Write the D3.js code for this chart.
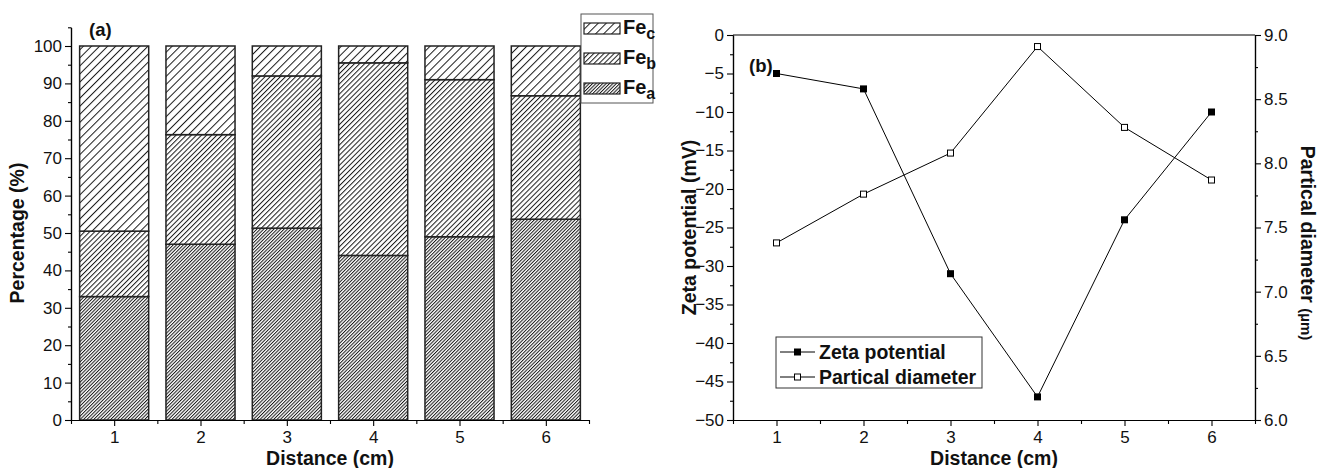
<!DOCTYPE html>
<html>
<head>
<meta charset="utf-8">
<script src="https://cdn.jsdelivr.net/npm/d3@7/dist/d3.min.js"></script>
<style>
  html, body { margin: 0; padding: 0; background: #fff; }
  svg { display: block; font-family: "Liberation Sans", Arial, sans-serif; }
</style>
</head>
<body>
<svg id="chart" width="1319" height="468"></svg>
<script>
// ---- data ----
const distances = [1, 2, 3, 4, 5, 6];
// iron fractions (%), stacked bottom to top
const feA = [33.0, 47.0, 51.3, 44.0, 49.0, 53.7];
const feB = [17.5, 29.3, 40.7, 51.5, 42.0, 33.0];
const feC = [49.5, 23.7, 8.0, 4.5, 9.0, 13.3];
const fractionNames = ["a", "b", "c"];

const zetaPotential = [-5, -7, -31, -47, -24, -10];
const particleDiameter = [7.38, 7.76, 8.08, 8.91, 8.28, 7.87];

const pctTicks = [0, 10, 20, 30, 40, 50, 60, 70, 80, 90, 100];
const zetaTicks = [0, -5, -10, -15, -20, -25, -30, -35, -40, -45, -50];
const diamTicks = [6.0, 6.5, 7.0, 7.5, 8.0, 8.5, 9.0];

const svg = d3.select("#chart");
const ink = "#000";
const tickFont = 17;
const titleFont = 19.5;

// ---- hatch patterns ----
const defs = svg.append("defs");
const hatchSpacing = { a: 2.4, b: 3.6, c: 5.7 };
fractionNames.forEach(k => {
  const p = defs.append("pattern")
    .attr("id", "hatch-" + k)
    .attr("patternUnits", "userSpaceOnUse")
    .attr("width", hatchSpacing[k])
    .attr("height", 10)
    .attr("patternTransform", "rotate(45)");
  p.append("rect").attr("width", hatchSpacing[k]).attr("height", 10).attr("fill", "#fff");
  p.append("line")
    .attr("x1", 0.5).attr("y1", 0).attr("x2", 0.5).attr("y2", 10)
    .attr("stroke", "#1a1a1a").attr("stroke-width", 1);
});

// ================= panel (a): stacked bars =================
const xA = d3.scaleLinear().domain([0.5, 6.5]).range([71, 589]);
const yA = d3.scaleLinear().domain([0, 105]).range([420, 27.3]);
const barW = xA(1.4) - xA(0.6);

const stackRows = distances.map((d, i) => ({ d, a: feA[i], b: feB[i], c: feC[i] }));
const stacked = d3.stack().keys(fractionNames)(stackRows);

const gA = svg.append("g");
stacked.forEach(layer => {
  gA.append("g").selectAll("rect")
    .data(layer)
    .join("rect")
    .attr("x", s => xA(s.data.d) - barW / 2)
    .attr("y", s => yA(s[1]))
    .attr("width", barW)
    .attr("height", s => yA(s[0]) - yA(s[1]))
    .attr("fill", "url(#hatch-" + layer.key + ")")
    .attr("stroke", "#222")
    .attr("stroke-width", 1.5);
});

// axes (a)
gA.append("g").attr("transform", `translate(${xA(0.5)},0)`)
  .call(d3.axisLeft(yA).tickValues(pctTicks).tickSize(6).tickSizeOuter(0).tickPadding(3).tickFormat(d3.format("d")));
gA.append("g").attr("transform", `translate(${xA(0.5)},0)`)
  .call(d3.axisLeft(yA).tickValues(d3.range(5, 106, 10)).tickSize(3).tickSizeOuter(0).tickFormat(""));
gA.append("g").attr("transform", `translate(0,${yA(0)})`)
  .call(d3.axisBottom(xA).tickValues(distances).tickSize(6).tickSizeOuter(0).tickPadding(5).tickFormat(d3.format("d")));
gA.append("g").attr("transform", `translate(0,${yA(0)})`)
  .call(d3.axisBottom(xA).tickValues(d3.range(0.5, 6.6, 1)).tickSize(4).tickSizeOuter(0).tickFormat(""));

gA.append("text").attr("x", 89).attr("y", 36)
  .attr("font-size", 18.5).attr("font-weight", "bold").text("(a)");
gA.append("text")
  .attr("transform", `translate(24,${yA(50)}) rotate(-90)`)
  .attr("text-anchor", "middle").attr("font-size", titleFont).attr("font-weight", "bold")
  .text("Percentage (%)");
gA.append("text").attr("x", xA(3.5)).attr("y", 465)
  .attr("text-anchor", "middle").attr("font-size", titleFont).attr("font-weight", "bold")
  .text("Distance (cm)");

// legend (a)
const legA = svg.append("g");
legA.append("rect").attr("x", 581).attr("y", 14).attr("width", 72).attr("height", 89)
  .attr("fill", "#fff").attr("stroke", "#555").attr("stroke-width", 1);
const legendOrder = ["c", "b", "a"];
legendOrder.forEach((k, i) => {
  const y0 = 23 + i * 30;
  legA.append("rect").attr("x", 584).attr("y", y0).attr("width", 36).attr("height", 11)
    .attr("fill", "url(#hatch-" + k + ")").attr("stroke", "#222").attr("stroke-width", 1.2);
  const t = legA.append("text").attr("x", 623).attr("y", y0 + 11)
    .attr("font-size", 20).attr("font-weight", "bold");
  t.append("tspan").text("Fe");
  t.append("tspan").attr("dy", 5).attr("font-size", 16).text(k);
});

// ================= panel (b): zeta potential & particle diameter =================
const xB = d3.scaleLinear().domain([0.5, 6.5]).range([733, 1255]);
const yZ = d3.scaleLinear().domain([-50, 0]).range([420, 35]);
const yD = d3.scaleLinear().domain([6, 9]).range([420, 35]);
const gB = svg.append("g");

// top frame line
gB.append("line").attr("x1", xB(0.5)).attr("x2", xB(6.5)).attr("y1", yZ(0)).attr("y2", yZ(0))
  .attr("stroke", ink).attr("stroke-width", 1.2);

gB.append("g").attr("transform", `translate(${xB(0.5)},0)`)
  .call(d3.axisLeft(yZ).tickValues(zetaTicks).tickSize(6).tickSizeOuter(0).tickPadding(3).tickFormat(d3.format("d")));
gB.append("g").attr("transform", `translate(${xB(0.5)},0)`)
  .call(d3.axisLeft(yZ).tickValues(d3.range(-47.5, 0, 5)).tickSize(3).tickSizeOuter(0).tickFormat(""));
gB.append("g").attr("transform", `translate(${xB(6.5)},0)`)
  .call(d3.axisRight(yD).tickValues(diamTicks).tickSize(6).tickSizeOuter(0).tickPadding(3).tickFormat(d3.format(".1f")));
gB.append("g").attr("transform", `translate(${xB(6.5)},0)`)
  .call(d3.axisRight(yD).tickValues(d3.range(6.25, 9, 0.5)).tickSize(3).tickSizeOuter(0).tickFormat(""));
gB.append("g").attr("transform", `translate(0,${yZ(-50)})`)
  .call(d3.axisBottom(xB).tickValues(distances).tickSize(6).tickSizeOuter(0).tickPadding(5).tickFormat(d3.format("d")));
gB.append("g").attr("transform", `translate(0,${yZ(-50)})`)
  .call(d3.axisBottom(xB).tickValues(d3.range(0.5, 6.6, 1)).tickSize(4).tickSizeOuter(0).tickFormat(""));

// series lines
const zetaLine = d3.line().x((v, i) => xB(distances[i])).y(v => yZ(v));
const diamLine = d3.line().x((v, i) => xB(distances[i])).y(v => yD(v));
gB.append("path").attr("d", zetaLine(zetaPotential))
  .attr("fill", "none").attr("stroke", ink).attr("stroke-width", 1);
gB.append("path").attr("d", diamLine(particleDiameter))
  .attr("fill", "none").attr("stroke", ink).attr("stroke-width", 1);

const m = 7;
gB.append("g").selectAll("rect").data(zetaPotential).join("rect")
  .attr("x", (v, i) => xB(distances[i]) - m / 2).attr("y", v => yZ(v) - m / 2)
  .attr("width", m).attr("height", m).attr("fill", ink);
gB.append("g").selectAll("rect").data(particleDiameter).join("rect")
  .attr("x", (v, i) => xB(distances[i]) - m / 2 + 0.5).attr("y", v => yD(v) - m / 2 + 0.5)
  .attr("width", m - 1).attr("height", m - 1).attr("fill", "#fff")
  .attr("stroke", ink).attr("stroke-width", 1);

gB.append("text").attr("x", 749).attr("y", 72)
  .attr("font-size", 18.5).attr("font-weight", "bold").text("(b)");
gB.append("text")
  .attr("transform", `translate(696,${yZ(-25)}) rotate(-90)`)
  .attr("text-anchor", "middle").attr("font-size", titleFont).attr("font-weight", "bold")
  .text("Zeta potential (mV)");
const rt = gB.append("text")
  .attr("transform", `translate(1301,243) rotate(90)`)
  .attr("text-anchor", "middle").attr("font-weight", "bold");
rt.append("tspan").attr("font-size", titleFont).text("Partical diameter ");
rt.append("tspan").attr("font-size", 15).text("(µm)");
gB.append("text").attr("x", xB(3.5)).attr("y", 465)
  .attr("text-anchor", "middle").attr("font-size", titleFont).attr("font-weight", "bold")
  .text("Distance (cm)");

// legend (b)
const legB = svg.append("g");
legB.append("rect").attr("x", 776).attr("y", 337).attr("width", 206).attr("height", 51)
  .attr("fill", "#fff").attr("stroke", "#333").attr("stroke-width", 1);
const legItems = [
  { name: "Zeta potential", filled: true },
  { name: "Partical diameter", filled: false }
];
legItems.forEach((it, i) => {
  const cy = 352 + i * 25;
  legB.append("line").attr("x1", 780).attr("x2", 815).attr("y1", cy).attr("y2", cy)
    .attr("stroke", ink).attr("stroke-width", 1);
  if (it.filled) {
    legB.append("rect").attr("x", 797.5 - m / 2).attr("y", cy - m / 2)
      .attr("width", m).attr("height", m).attr("fill", ink);
  } else {
    legB.append("rect").attr("x", 797.5 - m / 2 + 0.5).attr("y", cy - m / 2 + 0.5)
      .attr("width", m - 1).attr("height", m - 1).attr("fill", "#fff")
      .attr("stroke", ink).attr("stroke-width", 1);
  }
  legB.append("text").attr("x", 819).attr("y", cy + 7)
    .attr("font-size", 19.5).attr("font-weight", "bold").text(it.name);
});

// common axis styling
svg.selectAll(".domain").attr("stroke", ink).attr("stroke-width", 1.2);
svg.selectAll(".tick line").attr("stroke", ink).attr("stroke-width", 1.1);
svg.selectAll(".tick text").attr("font-size", tickFont)
  .attr("font-family", "'Liberation Sans', Arial, sans-serif");
svg.selectAll("text").attr("fill", "#111");
</script>
</body>
</html>
